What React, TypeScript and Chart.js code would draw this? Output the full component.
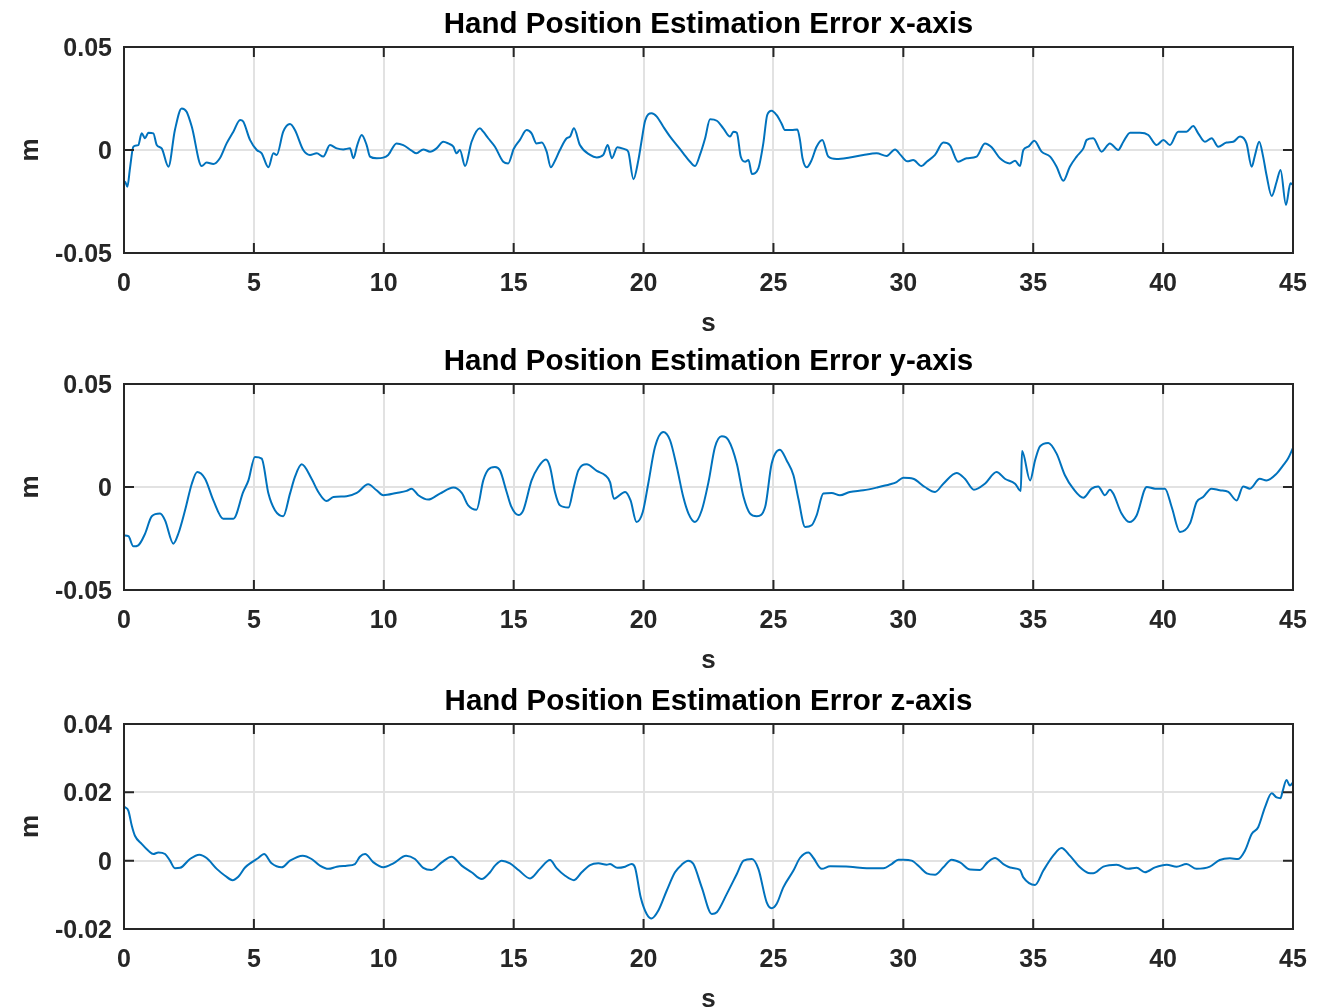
import React, { useEffect, useRef } from "react";
import { Chart, registerables } from "chart.js";

Chart.register(...registerables);

// ---------- data (seconds, metres) ----------
const timeTicks = [0, 5, 10, 15, 20, 25, 30, 35, 40, 45];
const timeTickLabels = ["0", "5", "10", "15", "20", "25", "30", "35", "40", "45"];

const xyTicks = [-0.05, 0, 0.05];
const xyTickLabels = ["-0.05", "0", "0.05"];
const zTicks = [-0.02, 0, 0.02, 0.04];
const zTickLabels = ["-0.02", "0", "0.02", "0.04"];

const panelTitles = [
  "Hand Position Estimation Error x-axis",
  "Hand Position Estimation Error y-axis",
  "Hand Position Estimation Error z-axis",
];

const errorX: [number, number][] = [
  [0, -0.016], [0.04, -0.0154], [0.13, -0.0178], [0.23, -0.0089], [0.36, 0.0016], [0.55, 0.0024],
  [0.68, 0.0081], [0.81, 0.0057], [0.94, 0.0084], [1.13, 0.0081], [1.26, 0.0024], [1.45, 0.0008],
  [1.71, -0.0081], [1.96, 0.0097], [2.22, 0.0202], [2.41, 0.0186], [2.61, 0.0113], [2.99, -0.0078],
  [3.18, -0.0061], [3.44, -0.0068], [3.69, -0.004], [3.95, 0.0032], [4.21, 0.0089], [4.47, 0.0146],
  [4.59, 0.0138], [4.85, 0.0049], [5.11, 0.0], [5.3, -0.0016], [5.56, -0.0084], [5.75, -0.0016],
  [5.88, -0.0024], [6.13, 0.0089], [6.39, 0.0126], [6.58, 0.0097], [6.9, 0.0], [7.16, -0.0024],
  [7.42, -0.0016], [7.67, -0.0032], [7.93, 0.0024], [8.19, 0.0008], [8.44, 0.0003], [8.7, 0.0008],
  [8.83, -0.004], [8.98, 0.0024], [9.15, 0.0073], [9.34, 0.0024], [9.47, -0.0032], [9.73, -0.004],
  [9.98, -0.0037], [10.17, -0.0024], [10.49, 0.0032], [10.75, 0.0024], [11.07, -0.0003], [11.26, -0.0016],
  [11.52, 0.0003], [11.78, -0.0008], [12.03, 0.0008], [12.29, 0.004], [12.48, 0.0032], [12.68, 0.0016],
  [12.8, -0.0016], [12.93, 0.0], [13.13, -0.0078], [13.38, 0.004], [13.7, 0.0105], [13.83, 0.0089],
  [14.02, 0.0057], [14.28, 0.0016], [14.6, -0.0057], [14.79, -0.0065], [15.0, 0.0005], [15.24, 0.0049],
  [15.5, 0.0097], [15.69, 0.0081], [15.88, 0.0032], [16.08, 0.0036], [16.27, -0.0008], [16.43, -0.0084],
  [16.59, -0.0052], [16.78, 0.0], [17.04, 0.0057], [17.17, 0.0065], [17.32, 0.0105], [17.55, 0.0024],
  [17.94, -0.0024], [18.2, -0.0036], [18.45, -0.0024], [18.62, 0.0024], [18.78, -0.004], [18.99, 0.0013],
  [19.29, 0.0003], [19.41, -0.0008], [19.61, -0.0142], [19.8, -0.0049], [19.93, 0.0049], [20.06, 0.0142],
  [20.31, 0.0178], [20.51, 0.0162], [20.76, 0.0113], [21.02, 0.0065], [21.28, 0.0024], [21.53, -0.0016],
  [21.79, -0.0057], [21.98, -0.0078], [22.17, -0.0024], [22.37, 0.0057], [22.56, 0.0149], [22.82, 0.0142],
  [23.07, 0.0105], [23.33, 0.0065], [23.46, 0.0089], [23.59, 0.0084], [23.74, -0.0032], [23.91, -0.0057],
  [24.04, -0.0049], [24.17, -0.0116], [24.42, -0.0089], [24.61, 0.0032], [24.76, 0.017], [24.93, 0.0191],
  [25.12, 0.017], [25.31, 0.0129], [25.44, 0.0097], [25.7, 0.0097], [25.92, 0.01], [26.02, 0.0049],
  [26.12, -0.004], [26.28, -0.0084], [26.47, -0.0049], [26.66, 0.0016], [26.88, 0.0049], [27.11, -0.0032],
  [27.43, -0.0044], [27.94, -0.0036], [28.46, -0.0024], [28.97, -0.0016], [29.36, -0.0029], [29.68, 0.0003],
  [29.9, -0.0025], [30.15, -0.0055], [30.38, -0.0049], [30.7, -0.0078], [30.9, -0.0057], [31.22, -0.0024],
  [31.54, 0.0036], [31.79, 0.0024], [32.11, -0.0057], [32.44, -0.004], [32.82, -0.0032], [33.14, 0.0032],
  [33.4, 0.0013], [33.72, -0.004], [34.1, -0.0065], [34.3, -0.0052], [34.49, -0.0078], [34.62, 0.0],
  [34.81, 0.0016], [35.04, 0.0045], [35.32, -0.0008], [35.65, -0.0032], [35.9, -0.0081], [36.16, -0.0149],
  [36.41, -0.0081], [36.67, -0.0032], [36.93, 0.0008], [37.06, 0.0049], [37.31, 0.0057], [37.63, -0.0008],
  [37.95, 0.0032], [38.27, 0.0], [38.47, 0.004], [38.73, 0.0084], [39.11, 0.0084], [39.43, 0.0073],
  [39.75, 0.0024], [40.01, 0.0049], [40.26, 0.0024], [40.58, 0.0089], [40.9, 0.0089], [41.16, 0.0116],
  [41.35, 0.0081], [41.61, 0.004], [41.87, 0.0057], [42.12, 0.0016], [42.44, 0.0036], [42.7, 0.004],
  [42.96, 0.0065], [43.21, 0.0032], [43.41, -0.0081], [43.53, -0.0029], [43.7, 0.004], [43.85, -0.0032],
  [43.98, -0.0121], [44.18, -0.0223], [44.37, -0.0154], [44.52, -0.0097], [44.73, -0.0267], [44.9, -0.0162],
  [45.0, -0.017],
];

const errorY: [number, number][] = [
  [0, -0.0235], [0.17, -0.0239], [0.36, -0.0288], [0.55, -0.0283], [0.81, -0.0227], [1.07, -0.0142],
  [1.39, -0.0129], [1.58, -0.0162], [1.9, -0.0275], [2.09, -0.0227], [2.35, -0.0113], [2.61, 0.0016],
  [2.82, 0.0073], [3.12, 0.004], [3.44, -0.0065], [3.82, -0.0154], [4.21, -0.0154], [4.59, -0.0024],
  [4.79, 0.0032], [5.04, 0.0146], [5.3, 0.0138], [5.56, -0.0032], [5.81, -0.0113], [6.13, -0.0142],
  [6.39, -0.0032], [6.58, 0.0049], [6.84, 0.011], [7.22, 0.004], [7.48, -0.0024], [7.8, -0.0068],
  [8.06, -0.0049], [8.57, -0.0045], [8.96, -0.0029], [9.4, 0.0013], [9.72, -0.0016], [9.98, -0.004],
  [10.49, -0.0029], [10.88, -0.0019], [11.07, -0.0008], [11.33, -0.004], [11.71, -0.0061], [12.16, -0.0032],
  [12.68, -0.0003], [13.0, -0.0029], [13.25, -0.0089], [13.57, -0.011], [13.83, 0.0032], [14.02, 0.0084],
  [14.28, 0.0097], [14.47, 0.0081], [14.73, -0.0024], [14.9, -0.0093], [15.18, -0.0136], [15.37, -0.0113],
  [15.69, 0.0032], [15.95, 0.0097], [16.24, 0.0133], [16.4, 0.0097], [16.59, -0.0024], [16.78, -0.0089],
  [17.11, -0.01], [17.3, -0.0008], [17.49, 0.0081], [17.81, 0.011], [18.2, 0.0078], [18.52, 0.0057],
  [18.71, 0.0024], [18.86, -0.0057], [19.29, -0.0024], [19.5, -0.0065], [19.73, -0.017], [19.97, -0.0121],
  [20.18, 0.0016], [20.44, 0.0194], [20.76, 0.0267], [21.02, 0.0227], [21.28, 0.0097], [21.53, -0.0049],
  [21.73, -0.0129], [21.98, -0.017], [22.24, -0.0113], [22.5, 0.0024], [22.75, 0.0194], [23.01, 0.0246],
  [23.27, 0.0227], [23.59, 0.0113], [23.85, -0.0049], [24.1, -0.0129], [24.36, -0.0142], [24.68, -0.0097],
  [24.93, 0.0113], [25.25, 0.0181], [25.51, 0.0129], [25.77, 0.0057], [25.96, -0.0057], [26.22, -0.0194],
  [26.47, -0.0186], [26.66, -0.0138], [26.92, -0.0032], [27.24, -0.0029], [27.56, -0.004], [27.94, -0.0024],
  [28.46, -0.0016], [28.97, -0.0003], [29.49, 0.0013], [29.74, 0.0024], [30.0, 0.0045], [30.38, 0.004],
  [30.83, 0.0], [31.22, -0.0024], [31.54, 0.0016], [32.05, 0.0068], [32.37, 0.004], [32.72, -0.0013],
  [33.14, 0.0016], [33.59, 0.0073], [33.91, 0.004], [34.3, 0.0016], [34.52, -0.0019], [34.57, 0.0175],
  [34.88, 0.0032], [35.07, 0.0129], [35.26, 0.0197], [35.58, 0.0214], [35.9, 0.0162], [36.22, 0.0057],
  [36.54, -0.0008], [36.93, -0.0052], [37.25, -0.0008], [37.5, 0.0003], [37.76, -0.004], [37.95, -0.0013],
  [38.08, -0.0032], [38.4, -0.0129], [38.7, -0.017], [38.98, -0.0138], [39.37, 0.0], [39.69, -0.0008],
  [40.07, -0.0008], [40.33, -0.0097], [40.65, -0.0218], [41.03, -0.0178], [41.29, -0.0073], [41.54, -0.0049],
  [41.86, -0.0008], [42.18, -0.0016], [42.51, -0.0024], [42.83, -0.0065], [43.08, 0.0003], [43.34, -0.0008],
  [43.72, 0.004], [43.98, 0.0032], [44.37, 0.0065], [44.62, 0.0105], [44.81, 0.0138], [45.0, 0.019],
];

const errorZ: [number, number][] = [
  [0, 0.0158], [0.04, 0.0156], [0.17, 0.0146], [0.3, 0.0102], [0.42, 0.0073], [0.68, 0.0049],
  [0.94, 0.0029], [1.13, 0.00195], [1.32, 0.0024], [1.58, 0.00195], [1.77, 0.0], [1.96, -0.0022],
  [2.16, -0.0021], [2.54, 0.0005], [2.9, 0.00176], [3.18, 0.00078], [3.57, -0.0024], [3.89, -0.0044],
  [4.18, -0.0057], [4.4, -0.0047], [4.66, -0.002], [4.91, -0.0005], [5.17, 0.00078], [5.39, 0.00195],
  [5.68, -0.00078], [6.07, -0.00195], [6.39, 0.0], [6.88, 0.00146], [7.22, 0.00049], [7.54, -0.00146],
  [7.87, -0.0024], [8.19, -0.00176], [8.57, -0.00146], [8.89, -0.00098], [9.08, 0.00117], [9.28, 0.00195],
  [9.6, -0.00049], [9.98, -0.00195], [10.37, -0.00078], [10.86, 0.00146], [11.2, 0.00049], [11.52, -0.0021],
  [11.84, -0.0027], [12.23, -0.00049], [12.61, 0.00117], [13.0, -0.00146], [13.38, -0.0034], [13.77, -0.0054],
  [14.09, -0.0034], [14.28, -0.00146], [14.54, 0.0], [14.86, -0.00078], [15.21, -0.0029], [15.63, -0.0052],
  [16.01, -0.0024], [16.4, 0.0002], [16.65, -0.0022], [16.98, -0.0044], [17.32, -0.0057], [17.62, -0.0034],
  [17.94, -0.00127], [18.26, -0.00078], [18.58, -0.00117], [18.71, -0.00098], [18.99, -0.0021], [19.29, -0.00176],
  [19.54, -0.00098], [19.67, -0.00195], [19.89, -0.0107], [20.12, -0.0156], [20.31, -0.0169], [20.57, -0.0146],
  [20.89, -0.0088], [21.21, -0.0034], [21.47, -0.00117], [21.72, 0.0], [21.92, -0.00098], [22.24, -0.0078],
  [22.63, -0.0156], [22.82, -0.0151], [23.2, -0.0098], [23.59, -0.0039], [23.85, 0.0], [24.17, 0.00049],
  [24.42, -0.0024], [24.74, -0.0122], [24.93, -0.0139], [25.12, -0.0127], [25.38, -0.0078], [25.77, -0.0029],
  [26.02, 0.00078], [26.35, 0.0024], [26.54, 0.00078], [26.86, -0.0024], [27.18, -0.00166], [27.94, -0.00176],
  [28.59, -0.0022], [29.23, -0.0022], [29.55, -0.00098], [29.81, 0.00029], [30.0, 0.0003], [30.32, 0.0],
  [30.64, -0.00195], [30.9, -0.0037], [31.22, -0.0041], [31.54, -0.00195], [31.86, 0.00029], [32.18, -0.00049],
  [32.57, -0.0026], [32.95, -0.0027], [33.24, -0.00049], [33.53, 0.00078], [33.85, -0.00098], [34.17, -0.0021],
  [34.49, -0.0027], [34.62, -0.0049], [35.07, -0.0071], [35.39, -0.0029], [35.77, 0.00146], [36.09, 0.0037],
  [36.41, 0.00146], [36.8, -0.00195], [37.12, -0.0036], [37.31, -0.0037], [37.7, -0.00176], [38.21, -0.00117],
  [38.66, -0.0024], [38.98, -0.0021], [39.3, -0.0034], [39.69, -0.00195], [40.14, -0.00117], [40.52, -0.00176],
  [40.9, -0.00098], [41.29, -0.0024], [41.8, -0.00176], [42.18, 0.0002], [42.57, 0.00068], [42.89, 0.00049],
  [43.15, 0.0029], [43.41, 0.0078], [43.66, 0.0098], [43.92, 0.0156], [44.18, 0.0197], [44.37, 0.0185],
  [44.52, 0.0183], [44.6, 0.0203], [44.75, 0.0236], [44.88, 0.022], [45.0, 0.0229],
];

// ---------- styling ----------
const FONT = '"Liberation Sans", Arial, Helvetica, sans-serif';
const LINE_COLOR = "#0072BD";
const AXIS_COLOR = "#262626";
const GRID_COLOR = "#e2e2e2";

const framePlugin = {
  id: "matlabFrame",
  afterDatasetsDraw(chart: any) {
    const { ctx, chartArea, scales } = chart;
    const { left, right, top, bottom } = chartArea;
    const tl = 10;
    ctx.save();
    ctx.strokeStyle = AXIS_COLOR;
    ctx.lineWidth = 2;
    ctx.beginPath();
    scales.x.ticks.forEach((t: any) => {
      const px = scales.x.getPixelForValue(t.value);
      ctx.moveTo(px, bottom);
      ctx.lineTo(px, bottom - tl);
      ctx.moveTo(px, top);
      ctx.lineTo(px, top + tl);
    });
    scales.y.ticks.forEach((t: any) => {
      const py = scales.y.getPixelForValue(t.value);
      ctx.moveTo(left, py);
      ctx.lineTo(left + tl, py);
      ctx.moveTo(right, py);
      ctx.lineTo(right - tl, py);
    });
    ctx.stroke();
    ctx.strokeRect(left, top, right - left, bottom - top);
    ctx.restore();
  },
};

type PanelProps = {
  title: string;
  series: [number, number][];
  yMin: number;
  yMax: number;
  yTicks: number[];
  yLabels: string[];
  top: number;
  height: number;
};

function Panel({ title, series, yMin, yMax, yTicks, yLabels, top, height }: PanelProps) {
  const ref = useRef<HTMLCanvasElement | null>(null);
  useEffect(() => {
    if (!ref.current) return;
    const chart = new Chart(ref.current, {
      type: "line",
      data: {
        datasets: [
          {
            data: series.map(([x, y]) => ({ x, y })),
            borderColor: LINE_COLOR,
            borderWidth: 2,
            pointRadius: 0,
            fill: false,
            cubicInterpolationMode: "monotone",
          },
        ],
      },
      options: {
        responsive: false,
        animation: false,
        devicePixelRatio: 1,
        layout: { padding: { left: 0, right: 41, top: 0, bottom: 0 } },
        plugins: {
          legend: { display: false },
          tooltip: { enabled: false },
          title: {
            display: true,
            text: title,
            color: "#000000",
            fullSize: false,
            font: { family: FONT, size: 29.5, weight: "bold", lineHeight: 1 },
            padding: { top: 10.5, bottom: 7 },
          },
        },
        scales: {
          x: {
            type: "linear",
            min: 0,
            max: 45,
            afterBuildTicks: (s: any) => {
              s.ticks = timeTicks.map((v) => ({ value: v }));
            },
            afterFit: (s: any) => {
              s.height = 84;
            },
            grid: { color: GRID_COLOR, lineWidth: 2, drawTicks: false },
            border: { display: false },
            ticks: {
              color: AXIS_COLOR,
              font: { family: FONT, size: 25, weight: "bold", lineHeight: 1 },
              padding: 19,
              maxRotation: 0,
              autoSkip: false,
              callback: (_v: any, i: number) => timeTickLabels[i],
            },
            title: {
              display: true,
              text: "s",
              color: AXIS_COLOR,
              font: { family: FONT, size: 26, weight: "bold", lineHeight: 1 },
              padding: { top: 0, bottom: 0 },
            },
          },
          y: {
            type: "linear",
            min: yMin,
            max: yMax,
            afterBuildTicks: (s: any) => {
              s.ticks = yTicks.map((v) => ({ value: v }));
            },
            afterFit: (s: any) => {
              s.width = 124;
            },
            grid: { color: GRID_COLOR, lineWidth: 2, drawTicks: false },
            border: { display: false },
            ticks: {
              color: AXIS_COLOR,
              font: { family: FONT, size: 25, weight: "bold", lineHeight: 1 },
              padding: 12,
              labelOffset: 2,
              autoSkip: false,
              callback: (_v: any, i: number) => yLabels[i],
            },
            title: {
              display: true,
              text: "m",
              color: AXIS_COLOR,
              font: { family: FONT, size: 26, weight: "bold", lineHeight: 1 },
              padding: { top: 18, bottom: 0 },
            },
          },
        },
      },
      plugins: [framePlugin],
    } as any);
    return () => chart.destroy();
  }, [title, series, yMin, yMax, yTicks, yLabels]);

  return (
    <canvas
      ref={ref}
      width={1334}
      height={height}
      style={{ position: "absolute", left: 0, top, width: 1334, height }}
    />
  );
}

export default function App() {
  return (
    <div
      style={{
        position: "absolute",
        left: 0,
        top: 0,
        width: 1334,
        height: 1008,
        overflow: "hidden",
        background: "#ffffff",
      }}
    >
      <Panel title={panelTitles[0]} series={errorX} yMin={-0.05} yMax={0.05} yTicks={xyTicks} yLabels={xyTickLabels} top={0} height={337} />
      <Panel title={panelTitles[1]} series={errorY} yMin={-0.05} yMax={0.05} yTicks={xyTicks} yLabels={xyTickLabels} top={337} height={337} />
      <Panel title={panelTitles[2]} series={errorZ} yMin={-0.02} yMax={0.04} yTicks={zTicks} yLabels={zTickLabels} top={677} height={336} />
    </div>
  );
}
